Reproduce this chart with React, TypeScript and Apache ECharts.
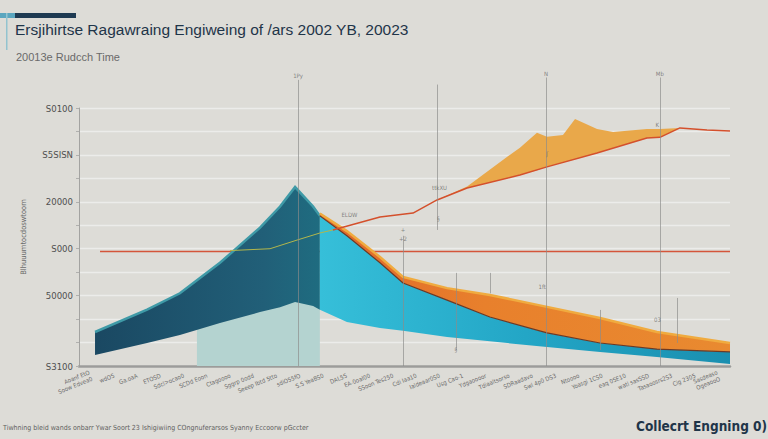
import React, { useEffect, useRef } from "react";
import * as echarts from "echarts";

// ---- category tick labels (x axis) ----
const categories = [
  "Aoanf EtO\nSoow Edvea0", "wdOS", "Ga.oaA", "ETOSD", "Sdcl>ocao0", "SCDd Eoon",
  "Ctagoooo", "Sggrp 0odd", "Seeep Ibtd 5tto", "sdiO55fO", "S.S YeaBS0", "DAL5S",
  "EA-0oaI00", "SSoon Tes250", "Cdi Iaa10", "Ialdeaar0S0", "Usg Cao-1", "Ydgaoooor",
  "Tdiaaltsorso", "SDRaadavo", "Swl 4p0 DS3", "Ntoooo", "Yoasgi 1CS0", "eaq 0SE10",
  "watl sasSSD", "Tasaoosrs2S3", "Cig 2305", "Sasdeaso\nOgeaooO",
];

// ---- y tick labels ----
const yTickValues = [0, 3, 5, 7, 9, 11];
const yTickTexts = ["S3100", "50000", "S000", "20000", "S5SISN", "S0100"];

// ---- teal ribbon (left) ----
const tealX = [0.64, 2.72, 4.03, 5.63, 7.23, 8.03, 8.63, 9.35, 9.62];
const tealLow = [0.47, 0.98, 1.32, 1.83, 2.3, 2.5, 2.73, 2.56, 2.4];
const tealHigh = [1.45, 2.4, 3.1, 4.4, 5.9, 6.8, 7.63, 6.8, 6.4];

// ---- cyan + orange ribbons (right) ----
const cyanX = [9.62, 10.7, 12.02, 12.94, 14.7, 16.41, 18.69, 20.81, 23.08, 26.0];
const cyanLow = [2.4, 1.88, 1.62, 1.5, 1.24, 1.05, 0.81, 0.6, 0.38, 0.09];
const cyanHigh = [6.4, 5.55, 4.4, 3.54, 2.81, 2.09, 1.41, 0.98, 0.72, 0.6];
const orangeHigh = [6.5, 5.75, 4.65, 3.8, 3.32, 3.03, 2.52, 2.05, 1.45, 0.98];

// ---- yellow area (upper right) ----
const yellowX = [14.3, 15.5, 17.09, 17.61, 18.29, 18.69, 19.33, 19.81, 20.69, 21.33, 22.68, 23.2, 24.0];
const yellowLow = [7.08, 7.59, 8.0, 8.14, 8.35, 8.49, 8.68, 8.82, 9.08, 9.29, 9.72, 9.75, 10.15];
const yellowHigh = [7.08, 7.65, 8.91, 9.3, 9.94, 9.77, 9.85, 10.53, 10.1, 9.98, 10.1, 10.1, 10.15];

// ---- red trend line ----
const redX = [10.14, 12.02, 13.34, 14.3, 15.5, 17.61, 18.69, 20.69, 22.68, 23.2, 24.0, 25.08, 26.0];
const redY = [5.8, 6.35, 6.52, 7.08, 7.59, 8.14, 8.49, 9.08, 9.72, 9.75, 10.15, 10.06, 10.02];

// ---- thin green line ----
const greenX = [6.03, 7.63, 8.71, 9.62, 10.14];
const greenY = [4.92, 5.0, 5.37, 5.67, 5.8];

// ---- threshold ----
const thresholdX = [0.84, 26.0];
const thresholdY = [4.88, 4.88];

// ---- highlighted period ----
const highlightX = [4.71, 9.62];
const highlightY = [0, 2.8];

// ---- vertical markers ----
const markerX = [8.75, 12.94, 14.3, 15.05, 16.41, 18.65, 20.81, 23.2, 23.9];
const markerFrom = [0, 0, 5.8, 0.68, 3.1, 0, 0.68, 0, 0.98];
const markerTo = [12.2, 5.55, 12.0, 3.97, 3.97, 12.3, 2.39, 12.3, 2.9];

// ---- small annotations ----
const noteX = [8.75, 14.4, 18.65, 23.2, 23.1, 18.7, 12.94, 12.94, 15.05, 18.5, 23.1, 10.8, 14.35];
const noteY = [12.4, 7.6, 12.45, 12.45, 10.3, 9.05, 5.8, 5.45, 0.7, 3.37, 2.0, 6.45, 6.3];
const noteText = ["1Py", "ttkXU", "N", "Mb", "K", "ʃ", "+", "+2", "§", "1ft", "03", "ELDW", "§"];

const FONT = "'Liberation Sans', Arial, sans-serif";
const NARROW = "'Liberation Sans Narrow', 'DejaVu Sans Condensed', sans-serif";

export default function App() {
  const ref = useRef<HTMLDivElement>(null);

  useEffect(() => {
    if (!ref.current) return;
    const chart = echarts.init(ref.current, undefined, { renderer: "svg" });

    const pair = (xs: number[], ys: number[]) => xs.map((x, i) => [x, ys[i]]);

    // ribbon between a lower and an upper edge, drawn through the axes' scales
    const band = (name: string, xs: number[], lo: number[], hi: number[], fill: any, edge?: any, z = 2) => ({
      type: "custom", name, xAxisIndex: 1, yAxisIndex: 0, silent: true, z,
      data: xs.map((x, i) => [x, lo[i], hi[i]]),
      encode: { x: 0, y: [1, 2] },
      renderItem: (params: any, api: any) => {
        if (params.dataIndexInside !== 0) return null;
        const n = params.dataInsideLength;
        const top: number[][] = [];
        const bottom: number[][] = [];
        for (let i = 0; i < n; i++) {
          top.push(api.coord([api.value(0, i), api.value(2, i)]));
          bottom.push(api.coord([api.value(0, i), api.value(1, i)]));
        }
        const children: any[] = [
          { type: "polygon", shape: { points: top.concat(bottom.reverse()) }, style: { fill } },
        ];
        if (edge) {
          children.push({
            type: "polyline", shape: { points: top },
            style: { fill: "none", stroke: edge.color, lineWidth: edge.width },
          });
        }
        return { type: "group", children };
      },
    });

    const yLabel = (v: number) => {
      const i = yTickValues.indexOf(v);
      return i >= 0 ? yTickTexts[i] : "";
    };

    chart.setOption({
      animation: false,
      backgroundColor: "#dddcd7",
      grid: [
        { left: 79, right: 38, top: 108, bottom: 73 },
        { left: 79, right: 38, top: 72.82, bottom: 73 },
      ],
      xAxis: [
        {
          type: "category", gridIndex: 0, data: categories, boundaryGap: true,
          axisLine: { lineStyle: { color: "#9c9c9a", width: 2.5 } },
          axisTick: { show: false },
          axisLabel: { interval: 0, rotate: 22, fontSize: 6, color: "#6a6a6a", fontFamily: NARROW, margin: 9, lineHeight: 7 },
          splitLine: { show: false },
        },
        { type: "value", gridIndex: 0, min: 0, max: 26, show: false },
        { type: "value", gridIndex: 1, min: 0, max: 26, show: false },
      ],
      yAxis: [
        {
          type: "value", gridIndex: 0, min: 0, max: 11, interval: 1,
          name: "Blhuuumtocdoswtoom", nameLocation: "middle", nameGap: 52, nameRotate: 90,
          nameTextStyle: { fontSize: 7.5, color: "#6b6b6b", fontFamily: NARROW },
          axisLine: { show: true, lineStyle: { color: "#a3a3a1", width: 1 } },
          axisTick: { show: true, length: 3, lineStyle: { color: "#b0b0ae" } },
          axisLabel: { formatter: yLabel, fontSize: 9.5, color: "#4f4f4f", fontFamily: NARROW, margin: 6 },
          splitLine: { lineStyle: { color: "#ececea", width: 1.3 } },
        },
        { type: "value", gridIndex: 1, min: 0, max: 12.5, show: false },
      ],
      series: [
        {
          type: "line", name: "threshold", xAxisIndex: 1, yAxisIndex: 0,
          data: pair(thresholdX, thresholdY), symbol: "none", silent: true, z: 1,
          itemStyle: { color: "#d4553a" },
          lineStyle: { color: "#d4553a", width: 1.4 },
          markArea: {
            silent: true, z: 1,
            itemStyle: { color: "#b4d3d0" },
            data: [[{ coord: [highlightX[0], highlightY[0]] }, { coord: [highlightX[1], highlightY[1]] }]],
          },
        },
        band("teal", tealX, tealLow, tealHigh,
          new echarts.graphic.LinearGradient(0, 0, 1, 0, [
            { offset: 0, color: "#1a4862" },
            { offset: 0.75, color: "#215f78" },
            { offset: 1, color: "#1f6c80" },
          ]),
          { color: "#3f9aa7", width: 2.5 }),
        band("cyan", cyanX, cyanLow, cyanHigh,
          new echarts.graphic.LinearGradient(0, 0, 1, 0, [
            { offset: 0, color: "#36bfd9" },
            { offset: 0.5, color: "#23a6c6" },
            { offset: 1, color: "#1a8fb0" },
          ])),
        band("orange", cyanX, cyanHigh, orangeHigh,
          new echarts.graphic.LinearGradient(0, 0, 1, 0, [
            { offset: 0, color: "#e0662a" },
            { offset: 0.4, color: "#e8802c" },
            { offset: 1, color: "#e98a30" },
          ]),
          { color: "#f0ab3f", width: 2.5 }),
        {
          type: "line", name: "divider", xAxisIndex: 1, yAxisIndex: 0, data: pair(cyanX, cyanHigh),
          symbol: "none", silent: true, z: 3, lineStyle: { color: "#6b3a26", width: 1.2 },
        },
        band("yellow", yellowX, yellowLow, yellowHigh, "#e9a84a"),
        {
          type: "line", name: "trend", xAxisIndex: 1, yAxisIndex: 0, data: pair(redX, redY),
          symbol: "none", silent: true, z: 3, lineStyle: { color: "#d4502c", width: 1.5 },
        },
        {
          type: "line", name: "green", xAxisIndex: 1, yAxisIndex: 0, data: pair(greenX, greenY),
          symbol: "none", silent: true, z: 3, lineStyle: { color: "#b2b64c", width: 1 },
        },
        {
          type: "scatter", name: "notes", xAxisIndex: 2, yAxisIndex: 1,
          data: noteX.map((x, i) => [x, noteY[i], noteText[i]]),
          symbolSize: 1, itemStyle: { color: "rgba(0,0,0,0)" }, silent: true, z: 6,
          label: {
            show: true, position: "inside", formatter: (p: any) => p.data[2],
            fontSize: 6, color: "#6a6a6a", fontFamily: NARROW,
          },
          markLine: {
            silent: true, symbol: "none", z: 5,
            label: { show: false },
            lineStyle: { color: "#8c8c8a", width: 0.8, type: "solid", opacity: 0.85 },
            data: markerX.map((x, i) => [{ coord: [x, markerFrom[i]] }, { coord: [x, markerTo[i]] }]),
          },
        },
      ],
      graphic: [
        { type: "rect", left: 0, top: 13, shape: { width: 15, height: 5 }, style: { fill: "#5aa6bf" } },
        { type: "rect", left: 15, top: 13, shape: { width: 61, height: 5 }, style: { fill: "#1e3a52" } },
        { type: "rect", left: 6, top: 13, shape: { width: 1.5, height: 37 }, style: { fill: "#93c3cf" } },
        {
          type: "text", left: 15, top: 21,
          style: { text: "Ersjihirtse Ragawraing Engiweing of /ars 2002 YB, 20023", font: `500 15.5px ${FONT}`, fill: "#1f3549" },
        },
        {
          type: "text", left: 16, top: 51,
          style: { text: "20013e Rudcch Time", font: `11px ${FONT}`, fill: "#6a6a6a" },
        },
        {
          type: "text", left: 3, top: 424,
          style: { text: "Tiwhning bleid wands onbarr Ywar Soort 23 Ishigiwiing COngnuferarsos Syanny Eccoorw pGccter", font: `7px ${NARROW}`, fill: "#5f5f5f" },
        },
        {
          type: "text", left: 636, top: 419,
          style: { text: "Collecrt Engning 0)", font: `bold 13.5px ${NARROW}`, fill: "#1f3549" },
        },
      ],
    });

    return () => chart.dispose();
  }, []);

  return (
    <div
      ref={ref}
      style={{ position: "fixed", left: 0, top: 0, width: 768, height: 439, background: "#dddcd7" }}
    />
  );
}
